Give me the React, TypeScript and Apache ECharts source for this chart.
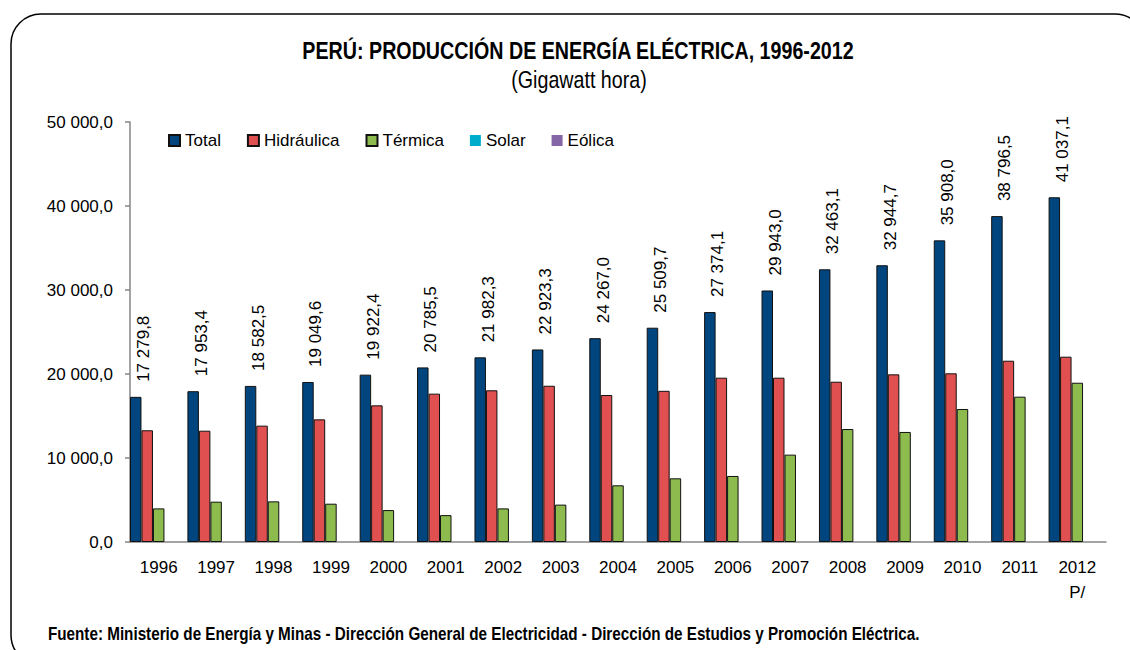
import React, { useEffect, useRef } from "react";
import * as echarts from "echarts";

const years = ["1996", "1997", "1998", "1999", "2000", "2001", "2002", "2003", "2004", "2005", "2006", "2007", "2008", "2009", "2010", "2011", "2012\nP/"];
const total = [17279.8, 17953.4, 18582.5, 19049.6, 19922.4, 20785.5, 21982.3, 22923.3, 24267.0, 25509.7, 27374.1, 29943.0, 32463.1, 32944.7, 35908.0, 38796.5, 41037.1];
const hidraulica = [13300, 13250, 13850, 14600, 16270, 17660, 18060, 18600, 17500, 18000, 19560, 19560, 19080, 19960, 20080, 21580, 22060];
const termica = [4000, 4800, 4840, 4560, 3800, 3200, 4000, 4450, 6750, 7580, 7860, 10400, 13450, 13100, 15830, 17300, 18960];
const solar = [0, 0, 0, 0, 0, 0, 0, 0, 0, 0, 0, 0, 0, 0, 0, 0, 0];
const eolica = [0, 0, 0, 0, 0, 0, 0, 0, 0, 0, 0, 0, 0, 0, 0, 0, 0];

const FONT = '"Liberation Sans", Arial, sans-serif';

function fmt(v: number): string {
  const s = v.toFixed(1);
  const [i, d] = s.split(".");
  const withSpaces = i.replace(/\B(?=(\d{3})+(?!\d))/g, " ");
  return withSpaces + "," + d;
}

export default function App() {
  const ref = useRef<HTMLDivElement>(null);
  useEffect(() => {
    document.body.style.margin = "0";
    const chart = echarts.init(ref.current!, undefined, { renderer: "svg" });
    const border = { borderColor: "#111", borderWidth: 1 };
    chart.setOption({
      animation: false,
      backgroundColor: "#fff",
      textStyle: { fontFamily: FONT },
      legend: {
        left: 163,
        top: 127,
        itemWidth: 11,
        itemHeight: 11,
        itemGap: 26,
        icon: "rect",
        textStyle: { fontFamily: FONT, fontSize: 17, color: "#000" },
        data: ["Total", "Hidráulica", "Térmica", "Solar", "Eólica"],
      },
      grid: { left: 130, right: 24, top: 122, bottom: 108 },
      xAxis: {
        type: "category",
        data: years,
        axisLine: { lineStyle: { color: "#868686", width: 1.5 } },
        axisTick: { length: 6, lineStyle: { color: "#868686", width: 1.5 } },
        axisLabel: { fontFamily: FONT, fontSize: 17, color: "#000", margin: 13, lineHeight: 25, interval: 0 },
      },
      yAxis: {
        type: "value",
        min: 0,
        max: 50000,
        interval: 10000,
        splitLine: { show: false },
        axisLine: { show: true, lineStyle: { color: "#868686", width: 1.5 } },
        axisTick: { show: true, length: 5, lineStyle: { color: "#868686", width: 1.5 } },
        axisLabel: { fontFamily: FONT, fontSize: 17, color: "#000", margin: 17, formatter: (v: number) => fmt(v) },
      },
      series: [
        {
          name: "Total",
          type: "bar",
          data: total,
          barGap: "0%",
          barCategoryGap: "0%",
          itemStyle: { color: "#00457E", ...border },
          label: {
            show: true,
            position: "top",
            rotate: 90,
            align: "left",
            verticalAlign: "middle",
            distance: 15,
            offset: [0, 8],
            fontFamily: FONT,
            fontSize: 17,
            color: "#000",
            formatter: (p: any) => fmt(p.value),
          },
        },
        { name: "Hidráulica", type: "bar", data: hidraulica, barGap: "0%", barCategoryGap: "0%", itemStyle: { color: "#E05050", ...border } },
        { name: "Térmica", type: "bar", data: termica, barGap: "0%", barCategoryGap: "0%", itemStyle: { color: "#8DBB4E", ...border } },
        { name: "Solar", type: "bar", data: solar, barGap: "0%", barCategoryGap: "0%", itemStyle: { color: "#00AECB" } },
        { name: "Eólica", type: "bar", data: eolica, barGap: "0%", barCategoryGap: "0%", itemStyle: { color: "#8466A6" } },
      ],
      graphic: [
        {
          type: "rect",
          shape: { x: 11, y: 14, width: 1134, height: 651, r: 30 },
          style: { fill: "none", stroke: "#000", lineWidth: 1.5 },
          silent: true,
        },
        {
          type: "text",
          x: 578,
          y: 51,
          scaleX: 0.82,
          style: {
            text: "PERÚ: PRODUCCIÓN DE ENERGÍA ELÉCTRICA, 1996-2012",
            fontFamily: FONT,
            fontSize: 24,
            fontWeight: "bold",
            fill: "#000",
            align: "center",
            textAlign: "center",
            verticalAlign: "middle",
            textVerticalAlign: "middle",
          },
        },
        {
          type: "text",
          x: 579,
          y: 80,
          scaleX: 0.82,
          style: {
            text: "(Gigawatt hora)",
            fontFamily: FONT,
            fontSize: 24,
            fill: "#000",
            align: "center",
            textAlign: "center",
            verticalAlign: "middle",
            textVerticalAlign: "middle",
          },
        },
        {
          type: "text",
          x: 48,
          y: 634,
          scaleX: 0.847,
          style: {
            text: "Fuente: Ministerio de Energía y Minas - Dirección General de Electricidad - Dirección de Estudios y Promoción Eléctrica.",
            fontFamily: FONT,
            fontSize: 18,
            fontWeight: "bold",
            fill: "#000",
            verticalAlign: "middle",
            textVerticalAlign: "middle",
          },
        },
      ],
    });
    return () => chart.dispose();
  }, []);
  return <div ref={ref} style={{ width: 1130, height: 650 }} />;
}
